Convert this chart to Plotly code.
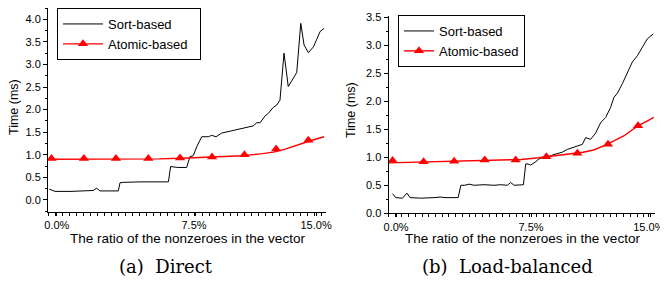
import plotly.graph_objects as go

# ---------------- data ----------------
# (a) Direct
a_sort_x = [0.02, 0.33, 1.2, 2.0, 2.41, 2.59, 2.77, 3.3, 3.77, 3.86, 4.04, 5.0, 6.49, 6.61, 7.0, 7.48,
            7.66, 7.84, 8.03, 8.30, 8.66, 8.84, 9.08, 9.38, 9.84, 10.2, 10.74, 11.1, 11.29, 11.47,
            11.74, 11.92, 12.19, 12.37, 12.55, 12.77, 13.0, 13.24, 13.46, 13.68, 13.86, 14.09,
            14.37, 14.55, 14.73, 14.95]
a_sort_y = [0.24, 0.19, 0.19, 0.20, 0.21, 0.26, 0.20, 0.20, 0.20, 0.38, 0.39, 0.40, 0.40, 0.74, 0.72, 0.72,
            0.96, 0.98, 1.18, 1.40, 1.40, 1.43, 1.40, 1.48, 1.52, 1.56, 1.60, 1.64, 1.71, 1.71,
            1.86, 1.92, 2.05, 2.10, 2.21, 3.25, 2.51, 2.66, 2.82, 3.91, 3.43, 3.26,
            3.39, 3.56, 3.73, 3.80]
a_atom_x = [0.0, 3.0, 6.0, 7.5, 9.0, 10.5, 11.5, 12.2, 12.8, 13.5, 14.2, 14.95]
a_atom_y = [0.90, 0.90, 0.91, 0.93, 0.95, 0.98, 1.02, 1.06, 1.12, 1.22, 1.31, 1.40]
a_mark_x = [0.14, 1.90, 3.64, 5.40, 7.12, 8.86, 10.62, 12.34, 14.09]
a_mark_y = [0.92, 0.92, 0.92, 0.92, 0.93, 0.95, 1.00, 1.13, 1.32]

# (b) Load-balanced
b_sort_x = [0.23, 0.41, 0.79, 1.04, 1.22, 1.83, 2.58, 2.96, 3.14, 3.43, 3.71, 3.94, 4.09, 4.31, 4.56,
            4.84, 5.40, 5.97, 6.35, 6.72, 6.91, 7.10, 7.63, 7.76, 7.89, 8.04, 8.32, 8.51, 8.70,
            8.98, 9.27, 9.55, 9.83, 10.11, 10.40, 10.68, 10.96, 11.15, 11.43, 11.71, 12.0, 12.28,
            12.56, 12.75, 12.94, 13.22, 13.50, 13.79, 14.07, 14.35, 14.63, 14.97]
b_sort_y = [0.35, 0.28, 0.27, 0.36, 0.28, 0.27, 0.28, 0.29, 0.28, 0.28, 0.29, 0.28, 0.50, 0.50, 0.52,
            0.50, 0.51, 0.50, 0.51, 0.50, 0.55, 0.50, 0.51, 0.88, 0.88, 0.86, 0.92, 0.97, 1.00,
            1.00, 1.04, 1.06, 1.09, 1.14, 1.17, 1.20, 1.23, 1.35, 1.32, 1.43, 1.62, 1.71,
            1.89, 2.07, 2.14, 2.31, 2.49, 2.70, 2.81, 2.96, 3.11, 3.20]
b_atom_x = [0.0, 3.0, 6.0, 7.5, 8.5, 10.0, 11.0, 11.6, 12.3, 13.3, 14.1, 14.7, 15.0]
b_atom_y = [0.90, 0.92, 0.94, 0.96, 0.99, 1.05, 1.09, 1.13, 1.22, 1.38, 1.56, 1.66, 1.71]
b_mark_x = [0.23, 1.98, 3.71, 5.44, 7.19, 8.93, 10.68, 12.41, 14.11]
b_mark_y = [0.94, 0.92, 0.93, 0.95, 0.95, 1.01, 1.07, 1.23, 1.56]

x_tick_text = ["0.0%", "7.5%", "15.0%"]
a_tick_pos = [0.43, 7.88, 14.51]
b_tick_pos = [0.43, 8.06, 14.72]

series_names = ["Sort-based", "Atomic-based"]
y_title = "Time (ms)"
x_title = "The ratio of the nonzeroes in the vector"
captions = ["(a)\u00a0\u00a0Direct", "(b)\u00a0\u00a0Load-balanced"]

# ---------------- figure ----------------
# The page body keeps its default 8px margin, so the figure is drawn 8px
# in from the window's top-left corner; positions below are window pixels.
OFF = 8
W, H = 668 - OFF, 282 - OFF
FONT = "Liberation Sans, Arial, sans-serif"
RED = "#ff0000"

fig = go.Figure()

def add_panel(xa, ya, leg, sx, sy, ax, ay, mx, my, pad):
    fig.add_trace(go.Scatter(x=sx, y=sy, mode="lines", name=series_names[0] + pad,
                             line=dict(color="black", width=1), xaxis=xa, yaxis=ya, legend=leg))
    fig.add_trace(go.Scatter(x=ax, y=ay, mode="lines", name=series_names[1], showlegend=False,
                             line=dict(color=RED, width=1.4), xaxis=xa, yaxis=ya, legend=leg))
    fig.add_trace(go.Scatter(x=mx, y=my, mode="markers", name=series_names[1], showlegend=False,
                             marker=dict(symbol="triangle-up", size=9, color=RED),
                             xaxis=xa, yaxis=ya, legend=leg))
    # legend entry (line + marker)
    fig.add_trace(go.Scatter(x=[None], y=[None], mode="lines+markers", name=series_names[1] + pad,
                             line=dict(color=RED, width=1.4),
                             marker=dict(symbol="triangle-up", size=9, color=RED),
                             xaxis=xa, yaxis=ya, legend=leg))

add_panel("x", "y", "legend", a_sort_x, a_sort_y, a_atom_x, a_atom_y, a_mark_x, a_mark_y,
          "\u00a0\u00a0")
add_panel("x2", "y2", "legend2", b_sort_x, b_sort_y, b_atom_x, b_atom_y, b_mark_x, b_mark_y, "")

def px_x(p):
    return (p - OFF) / W

def px_y(p):
    return 1 - (p - OFF) / H

common_x = dict(showline=True, linecolor="black", linewidth=1, showgrid=False, zeroline=False,
                automargin=False, ticklabeloverflow="allow",
                ticks="outside", ticklen=3, tickcolor="black", tickmode="array",
                ticktext=x_tick_text, tickfont=dict(family=FONT, size=11, color="black"),
                minor=dict(ticks="outside", ticklen=3, tickcolor="black", tickmode="linear",
                           tick0=0, dtick=0.38, showgrid=False))
common_y = dict(showline=True, linecolor="black", linewidth=1, showgrid=False, zeroline=False,
                automargin=False,
                ticks="outside", ticklen=4, tickcolor="black", tick0=0, dtick=0.5,
                tickformat=".1f", tickfont=dict(family=FONT, size=11, color="black"),
                minor=dict(ticks="outside", ticklen=2, tickcolor="black", dtick=0.25, showgrid=False))

fig.update_layout(
    width=W, height=H,
    margin=dict(l=0, r=0, t=0, b=0, autoexpand=False),
    paper_bgcolor="white", plot_bgcolor="white",
    font=dict(family=FONT, color="black"),
    xaxis=dict(common_x, domain=[px_x(48), px_x(326)], range=[-0.05, 15.05],
               tickvals=a_tick_pos, anchor="y"),
    yaxis=dict(common_y, domain=[px_y(211.7), px_y(8)], range=[-0.26, 4.25], anchor="x"),
    xaxis2=dict(common_x, domain=[px_x(388.5), px_x(655)], range=[0.0, 15.07],
                tickvals=b_tick_pos, anchor="y2"),
    yaxis2=dict(common_y, domain=[px_y(213.3), px_y(16)], range=[0.0, 3.52], anchor="x2"),
    legend=dict(x=px_x(57), y=px_y(8), xanchor="left", yanchor="top",
                bordercolor="black", borderwidth=1, bgcolor="white",
                font=dict(family=FONT, size=13, color="black"),
                itemwidth=40, tracegroupgap=0),
    legend2=dict(x=px_x(398), y=px_y(15), xanchor="left", yanchor="top",
                 bordercolor="black", borderwidth=1, bgcolor="white",
                 font=dict(family=FONT, size=13, color="black"),
                 itemwidth=30, tracegroupgap=0),
    showlegend=True,
)

anns = [
    dict(text=y_title, x=px_x(14), y=px_y(107), textangle=-90, font=dict(family=FONT, size=12.5)),
    dict(text=y_title, x=px_x(351), y=px_y(110), textangle=-90, font=dict(family=FONT, size=12.5)),
    dict(text=x_title, x=px_x(187), y=px_y(238), font=dict(family=FONT, size=13.5)),
    dict(text=x_title, x=px_x(522), y=px_y(238), font=dict(family=FONT, size=13.5)),
    dict(text=captions[0], x=px_x(166), y=px_y(266), font=dict(family="DejaVu Serif, serif", size=18)),
    dict(text=captions[1], x=px_x(507), y=px_y(266), font=dict(family="DejaVu Serif, serif", size=18)),
]
for a in anns:
    a.update(xref="paper", yref="paper", xanchor="center", yanchor="middle", showarrow=False)
    a["font"]["color"] = "black"
fig.update_layout(annotations=anns)

fig.write_html("out.html")
